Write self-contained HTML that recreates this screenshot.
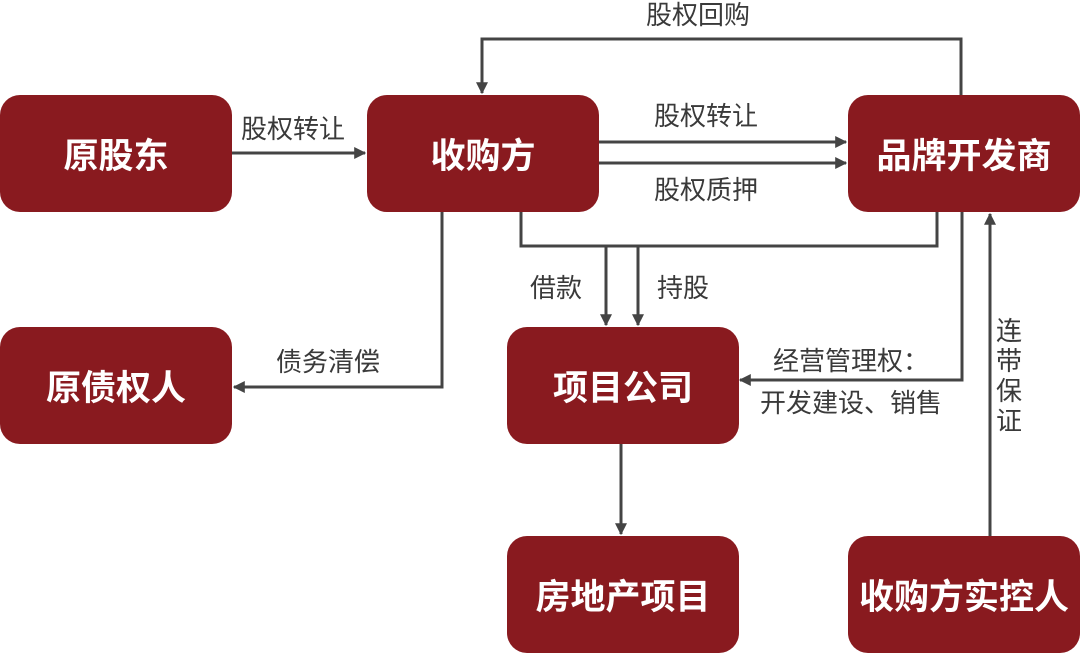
<!DOCTYPE html>
<html><head><meta charset="utf-8"><style>
body{margin:0;width:1080px;height:654px;background:#fff;position:relative;overflow:hidden;font-family:"Liberation Sans","Noto Sans CJK SC",sans-serif}
.b{position:absolute;background:#891a1f;border-radius:20px;color:#fff;font-weight:bold;font-size:35px;display:flex;align-items:center;justify-content:center;width:232px;height:117px}
.t{position:absolute;font-size:26px;color:#3a3a3a;white-space:nowrap;line-height:1}
svg{position:absolute;left:0;top:0}
</style></head><body>
<svg width="1080" height="654">
<defs>
<marker id="m" viewBox="0 0 10 10" markerWidth="12" markerHeight="12" refX="9" refY="5" orient="auto" markerUnits="userSpaceOnUse"><path d="M0,0 L10,5 L0,10 Z" fill="#444"/></marker></defs>
<g stroke="#444" stroke-width="3" fill="none">
<path d="M232,153 H365" marker-end="url(#m)"/>
<path d="M598,142 H846" marker-end="url(#m)"/>
<path d="M598,163 H846" marker-end="url(#m)"/>
<path d="M961,95 V39 H482 V93" marker-end="url(#m)"/>
<path d="M521,212 V246 H937 V212"/>
<path d="M606,246 V325" marker-end="url(#m)"/>
<path d="M638,246 V325" marker-end="url(#m)"/>
<path d="M962,212 V380 H740" marker-end="url(#m)"/>
<path d="M442,212 V387 H234" marker-end="url(#m)"/>
<path d="M621,443 V534" marker-end="url(#m)"/>
<path d="M990,536 V214" marker-end="url(#m)"/>
</g></svg>
<div class="b" style="left:0;top:95px">原股东</div>
<div class="b" style="left:367px;top:95px">收购方</div>
<div class="b" style="left:848px;top:95px">品牌开发商</div>
<div class="b" style="left:0;top:327px">原债权人</div>
<div class="b" style="left:507px;top:327px">项目公司</div>
<div class="b" style="left:507px;top:536px">房地产项目</div>
<div class="b" style="left:848px;top:536px">收购方实控人</div>
<div class="t" style="left:646px;top:2px">股权回购</div>
<div class="t" style="left:241px;top:116px">股权转让</div>
<div class="t" style="left:654px;top:103px">股权转让</div>
<div class="t" style="left:654px;top:177px">股权质押</div>
<div class="t" style="left:530px;top:275px">借款</div>
<div class="t" style="left:657px;top:275px">持股</div>
<div class="t" style="left:276px;top:349px">债务清偿</div>
<div class="t" style="left:773px;top:348px">经营管理权：</div>
<div class="t" style="left:760px;top:390px">开发建设、销售</div>
<div class="t" style="left:996px;top:316px;width:28px;white-space:normal;line-height:30px">连带保证</div>
</body></html>
